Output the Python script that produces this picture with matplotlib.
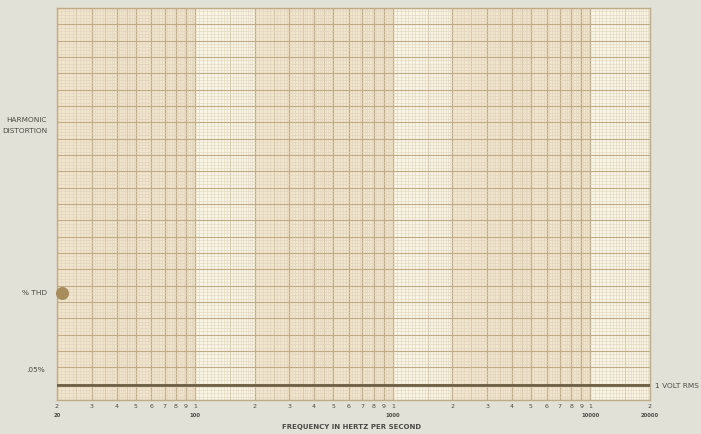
import numpy as np
import matplotlib.pyplot as plt

plt.rcParams['font.family'] = ['DejaVu Sans']

# frequency tick marks along the bottom
tick_freqs = [20, 30, 40, 50, 60, 70, 80, 90, 100,
              200, 300, 400, 500, 600, 700, 800, 900, 1000,
              2000, 3000, 4000, 5000, 6000, 7000, 8000, 9000, 10000, 20000]
tick_digits = ['2', '3', '4', '5', '6', '7', '8', '9', '1',
               '2', '3', '4', '5', '6', '7', '8', '9', '1',
               '2', '3', '4', '5', '6', '7', '8', '9', '1', '2']
decade_labels = {20: '20', 100: '100', 1000: '1000', 10000: '10000', 20000: '20000'}

# the single recorded point and the 1 volt reference level
thd_point_freq = [21.2]
thd_point_level = [6.55]
ref_level = 0.9

paper = '#e2e1d8'
cell_light = '#f8f5e6'
cell_shade = '#f0e5cd'
line_minor = '#e2d3bb'
line_mid = '#d4c1a0'
line_major = '#bfac87'
ink = '#4c4a44'

fig = plt.figure(figsize=(7.01, 4.34), dpi=100, facecolor=paper)
ax = fig.add_axes([57 / 701, 34 / 434, 593 / 701, 392 / 434])
ax.set_xscale('log')
ax.set_xlim(20, 20000)
ax.set_ylim(0, 24)
ax.set_facecolor(cell_light)

# shaded bands 2..10 of each decade
for d in [10, 100, 1000, 10000]:
    ax.axvspan(max(2 * d, 20), min(10 * d, 20000), color=cell_shade, lw=0, zorder=0)

# vertical rulings
for d in [10, 100, 1000, 10000]:
    steps = np.concatenate([np.arange(1, 2, 0.05), np.arange(2, 5, 0.1), np.arange(5, 10, 0.2)])
    for m in steps:
        f = m * d
        if f < 20 or f > 20000:
            continue
        mr = round(m, 2)
        if abs(mr - round(mr)) < 1e-6:
            ax.axvline(f, color=line_major, lw=0.9, zorder=1)
        elif abs(mr * 2 - round(mr * 2)) < 1e-6:
            ax.axvline(f, color=line_mid, lw=0.6, zorder=1)
        else:
            ax.axvline(f, color=line_minor, lw=0.4, zorder=1)

# horizontal rulings
for y in np.arange(0, 24.01, 0.2):
    if abs(y - round(y)) < 1e-6:
        ax.axhline(y, color=line_major, lw=0.8, zorder=1)
    else:
        ax.axhline(y, color=line_minor, lw=0.4, zorder=1)

ax.axhline(ref_level, color='#6d5f45', lw=2.0, zorder=3)
ax.scatter(thd_point_freq, thd_point_level, s=70, color='#a88d5c', zorder=4, clip_on=False)

for s in ax.spines.values():
    s.set_color(line_major)
    s.set_linewidth(1.0)

ax.set_xticks(tick_freqs)
ax.set_xticklabels(tick_digits)
ax.minorticks_off()
ax.tick_params(axis='x', length=0, pad=3, labelsize=4.5, labelcolor=ink)
ax.set_yticks([])

for f, lab in decade_labels.items():
    ax.text(f, -0.033, lab, transform=ax.get_xaxis_transform(), ha='center', va='top',
            fontsize=3.8, fontweight='bold', color=ink)

fig.text(47 / 701, 1 - 120 / 434, 'HARMONIC', ha='right', va='center', fontsize=5.3, color=ink)
fig.text(47 / 701, 1 - 131 / 434, 'DISTORTION', ha='right', va='center', fontsize=5.3, color=ink)
fig.text(47 / 701, 1 - 293 / 434, '% THD', ha='right', va='center', fontsize=5.3, color=ink)
fig.text(45 / 701, 1 - 370 / 434, '.05%', ha='right', va='center', fontsize=5.3, color=ink)
fig.text(655 / 701, 1 - 386 / 434, '1 VOLT RMS', ha='left', va='center', fontsize=5.3, color=ink)
fig.text(352 / 701, 1 - 427 / 434, 'FREQUENCY IN HERTZ PER SECOND', ha='center', va='center',
         fontsize=5.0, fontweight='bold', color=ink)

fig.savefig('out.png', dpi=100, facecolor=paper)
